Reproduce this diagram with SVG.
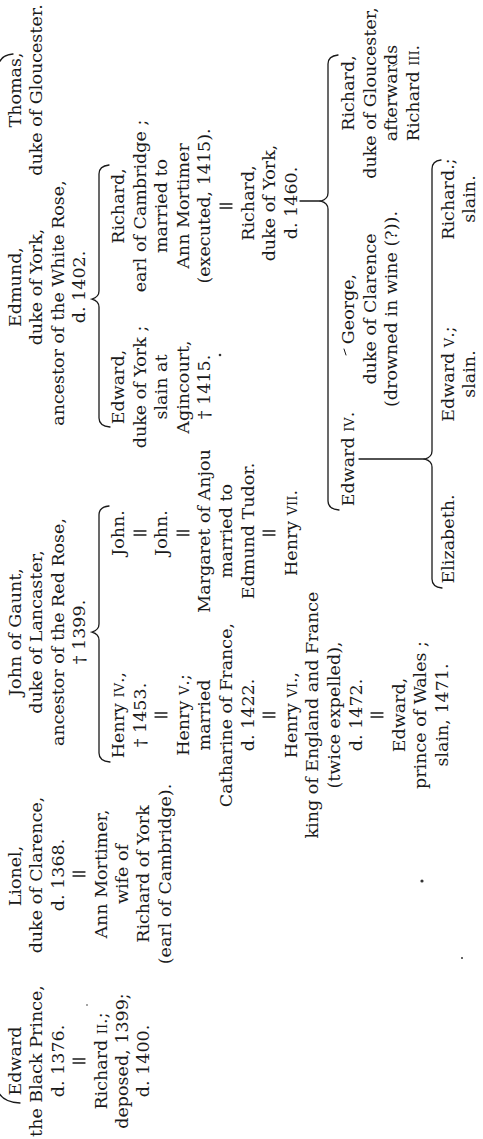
<svg xmlns="http://www.w3.org/2000/svg" width="483" height="1139" viewBox="0 0 483 1139">
<style>
text{font-family:"DejaVu Serif","Liberation Serif",serif;font-size:17.5px;fill:#1a1a1a;text-anchor:middle}
.sc{font-size:13px}
.c{fill:none;stroke:#1a1a1a;stroke-width:1.3;stroke-linecap:round}
.d{fill:#333}
</style>
<rect width="483" height="1139" fill="#fff"/>
<g transform="translate(0,1139) rotate(-90)">
<g id="connectors" class="c">
<path d="M36,20 Q37,4 46,-1 L1076,-1 Q1084,2 1085,13"/>
<path d="M377,110 Q378,99 386,99 L499,99 Q505,99 507,92 Q509,99 515,99 L624,99 Q632,99 633,109"/>
<path d="M712,110 Q713,99 721,99 L832,99 Q838,99 840,92 Q842,99 848,99 L965,99 Q973,99 974,109"/>
<path d="M938,300 L938,321"/>
<path d="M629,339 Q630,328 638,328 L930,328 Q936,328 938,321 Q940,328 946,328 L1075,328 Q1083,328 1084,338"/>
<path d="M680,359 L680,425"/>
<path d="M551,442 Q552,432 560,432 L672,432 Q678,432 680,425 Q682,432 688,432 L970,432 Q978,432 979,441"/>
<path d="M76,73 V85 M80,73 V85"/>
<path d="M263,73 V85 M267,73 V85"/>
<path d="M422,155 V167 M426,155 V167 M422,263 V275 M426,263 V275 M422,371 V383 M426,371 V383"/>
<path d="M604,134 V146 M608,134 V146 M604,177 V189 M608,177 V189 M604,263 V275 M608,263 V275"/>
<path d="M931,220 V232 M935,220 V232"/>
<path d="M784,346 L790,344" stroke-width="1"/>
<path d="M1073,393 L1075,397" stroke-width="0.8"/>
</g>
<g id="specks">
<circle class="d" cx="784" cy="220" r="1.3"/>
<circle class="d" cx="258" cy="422" r="1.6"/>
<circle class="d" cx="181" cy="462" r="1"/>
<circle class="d" cx="134" cy="87" r="0.8"/>
</g>
<g id="edward-black-prince">
<text x="78" y="21">Edward</text>
<text x="78" y="42.4">the Black Prince,</text>
<text x="78" y="63.8">d. 1376.</text>
</g>
<g id="richard-ii">
<text x="78" y="106.6">Richard <tspan class="sc">II</tspan>.;</text>
<text x="78" y="128">deposed, 1399;</text>
<text x="78" y="149.4">d. 1400.</text>
</g>
<g id="lionel">
<text x="263" y="21">Lionel,</text>
<text x="264" y="42.4">duke of Clarence,</text>
<text x="264" y="63.8">d. 1368.</text>
</g>
<g id="ann-mortimer">
<text x="265" y="106.6">Ann Mortimer,</text>
<text x="265" y="128">wife of</text>
<text x="265" y="149.4">Richard of York</text>
<text x="265" y="170.8">(earl of Cambridge).</text>
</g>
<g id="john-of-gaunt">
<text x="507" y="21">John of Gaunt,</text>
<text x="507" y="42.4">duke of Lancaster,</text>
<text x="507" y="63.8">ancestor of the Red Rose,</text>
<text x="507" y="85.2">† 1399.</text>
</g>
<g id="edmund">
<text x="852" y="21">Edmund,</text>
<text x="852" y="42.4">duke of York,</text>
<text x="836" y="63.8">ancestor of the White Rose,</text>
<text x="852" y="85.2">d. 1402.</text>
</g>
<g id="thomas">
<text x="1049" y="21">Thomas,</text>
<text x="1049" y="42.4">duke of Gloucester.</text>
</g>
<g id="henry-iv">
<text x="424" y="124">Henry <tspan class="sc">IV</tspan>.,</text>
<text x="424" y="145.6">† 1453.</text>
</g>
<g id="henry-v">
<text x="424" y="188.8">Henry <tspan class="sc">V</tspan>.;</text>
<text x="424" y="210.4">married</text>
<text x="424" y="232">Catharine of France,</text>
<text x="424" y="253.6">d. 1422.</text>
</g>
<g id="henry-vi">
<text x="424" y="296.8">Henry <tspan class="sc">VI</tspan>.,</text>
<text x="424" y="318.4">king of England and France</text>
<text x="424" y="340">(twice expelled),</text>
<text x="424" y="361.6">d. 1472.</text>
</g>
<g id="edward-prince-of-wales">
<text x="424" y="404.8">Edward,</text>
<text x="424" y="426.4">prince of Wales ;</text>
<text x="424" y="448">slain, 1471.</text>
</g>
<g id="john-1">
<text x="606" y="124">John.</text>
</g>
<g id="john-2">
<text x="606" y="167.2">John.</text>
</g>
<g id="margaret-of-anjou">
<text x="608" y="210.4">Margaret of Anjou</text>
<text x="608" y="232">married to</text>
<text x="608" y="253.6">Edmund Tudor.</text>
</g>
<g id="henry-vii">
<text x="606" y="296.8">Henry <tspan class="sc">VII</tspan>.</text>
</g>
<g id="edward-duke-of-york">
<text x="752" y="124">Edward,</text>
<text x="752" y="145.6">duke of York ;</text>
<text x="752" y="167.2">slain at</text>
<text x="752" y="188.8">Agincourt,</text>
<text x="752" y="210.4">† 1415.</text>
</g>
<g id="richard-earl-of-cambridge">
<text x="933" y="124">Richard,</text>
<text x="933" y="145.6">earl of Cambridge ;</text>
<text x="933" y="167.2">married to</text>
<text x="933" y="188.8">Ann Mortimer</text>
<text x="933" y="210.4">(executed, 1415).</text>
</g>
<g id="richard-duke-of-york">
<text x="936" y="253.6">Richard,</text>
<text x="936" y="275.2">duke of York,</text>
<text x="936" y="296.8">d. 1460.</text>
</g>
<g id="edward-iv">
<text x="680" y="354">Edward <tspan class="sc">IV</tspan>.</text>
</g>
<g id="george">
<text x="830" y="354">George,</text>
<text x="830" y="375.6">duke of Clarence</text>
<text x="830" y="397.2">(drowned in wine (?)).</text>
</g>
<g id="richard-iii">
<text x="1046" y="354">Richard,</text>
<text x="1046" y="375.6">duke of Gloucester,</text>
<text x="1046" y="397.2">afterwards</text>
<text x="1046" y="418.8">Richard <tspan class="sc">III</tspan>.</text>
</g>
<g id="elizabeth">
<text x="600" y="454">Elizabeth.</text>
</g>
<g id="edward-v">
<text x="765" y="454">Edward <tspan class="sc">V</tspan>.;</text>
<text x="765" y="475">slain.</text>
</g>
<g id="richard-son-of-edward-iv">
<text x="940" y="454">Richard.;</text>
<text x="940" y="475">slain.</text>
</g>
</g>
</svg>
